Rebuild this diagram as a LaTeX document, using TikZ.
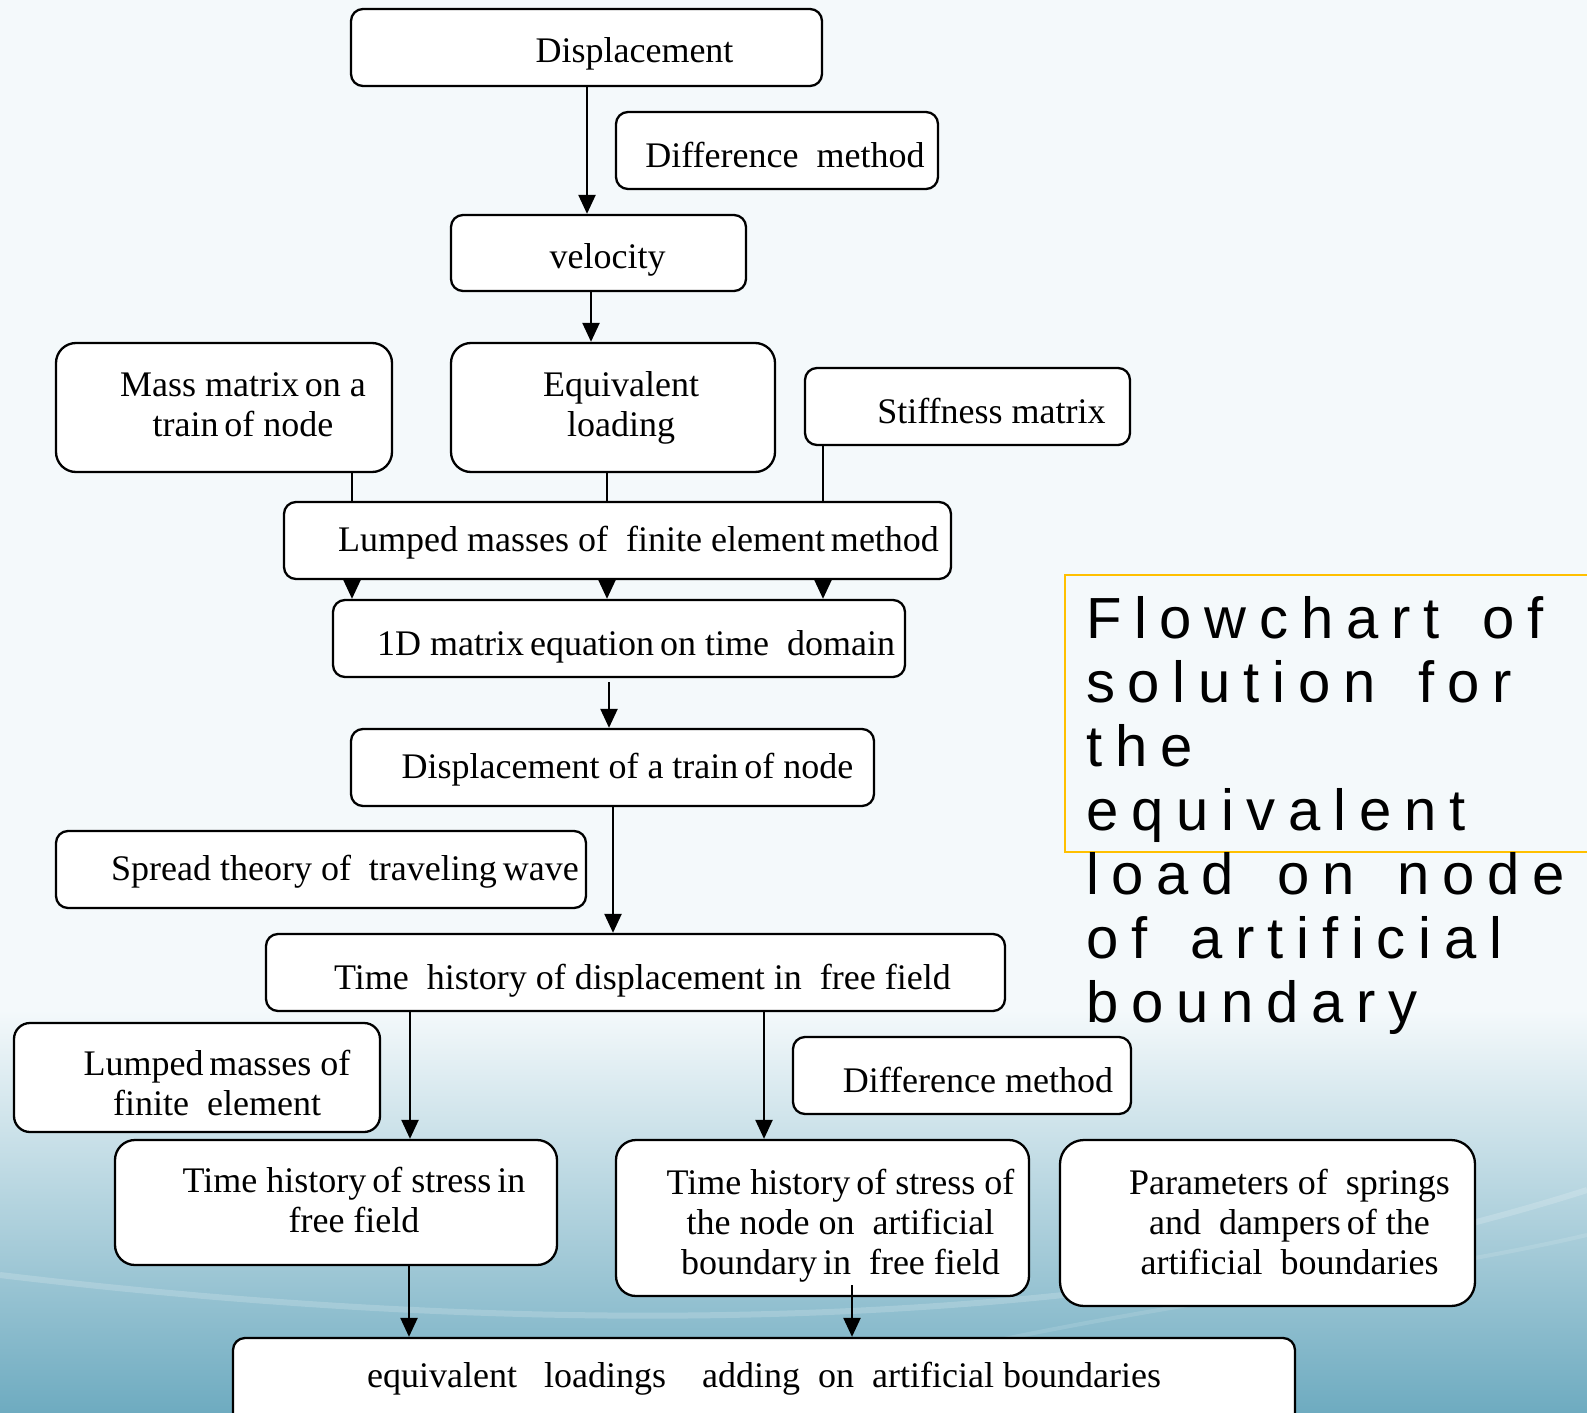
\documentclass[tikz,border=0pt]{standalone}
\usepackage{fontspec}
\setmainfont{Liberation Serif}
\newfontfamily\ttlfont[LetterSpace=22,WordSpace=1.5]{Liberation Sans}
\usetikzlibrary{arrows.meta}

\definecolor{bgtop}{HTML}{F4F9FB}
\definecolor{bgmid}{HTML}{B7D7E1}
\definecolor{bgdeep}{HTML}{6EABC0}
\definecolor{ttlgold}{HTML}{FFC000}

% text of a box, pushed right by #2 and down by #1
\newcommand\boxtxt[3][7]{\hspace*{#2pt}\raisebox{-#1pt}[\height][\depth]{\begin{tabular}{@{}c@{}}#3\end{tabular}}}

\begin{document}
\begin{tikzpicture}[x=1pt,y=-1pt,
  box/.style={draw, line width=2.3pt, fill=white, rounded corners=12pt,
    inner sep=2pt, font=\fontsize{36}{40}\selectfont},
  arr/.style={line width=2.3pt, -{Triangle[length=19pt,width=17pt]}}]
  \useasboundingbox (0,0) rectangle (1587,1413);

  % background
  \fill[bgtop] (0,0) rectangle (1587,1413);
  \shade[top color=bgtop, middle color=bgmid, bottom color=bgdeep] (0,1010) rectangle (1587,1413);
  \draw[white, opacity=.18, line width=6pt] (0,1275) .. controls (500,1335) and (1100,1345) .. (1587,1190);
  \draw[white, opacity=.12, line width=4pt] (700,1413) .. controls (1100,1300) and (1350,1290) .. (1587,1235);

  % boxes
  \node[box, minimum width=471pt, minimum height=77pt] (disp) at (586.5,47.5) {\boxtxt{96}{Displacement}};
  \node[box, minimum width=322pt, minimum height=77pt] (diffa) at (777,150.5) {\boxtxt[9]{16}{Difference\ \ method}};
  \node[box, minimum width=295pt, minimum height=76pt] (vel) at (598.5,253) {\boxtxt{18}{velocity}};
  \node[box, rounded corners=20pt, minimum width=336pt, minimum height=129pt] (mass) at (224,407.5)
    {\boxtxt[1]{38}{Mass matrix\,on a\\train\,of node}};
  \node[box, rounded corners=20pt, minimum width=324pt, minimum height=129pt] (equiv) at (613,407.5)
    {\boxtxt[1]{16}{Equivalent\\loading}};
  \node[box, minimum width=325pt, minimum height=77pt] (stiff) at (967.5,406.5) {\boxtxt[9]{48}{Stiffness matrix}};
  \node[box, minimum width=667pt, minimum height=77pt] (lump) at (617.5,540.5)
    {\boxtxt[3]{42}{Lumped masses of\ \ finite element\,method}};
  \node[box, minimum width=572pt, minimum height=77pt] (oned) at (619,638.5)
    {\boxtxt[9]{34}{1D matrix\,equation\,on time\ \ domain}};
  \node[box, minimum width=523pt, minimum height=77pt] (dtrain) at (612.5,767.5)
    {\boxtxt[3]{30}{Displacement of a train\,of node}};
  \node[box, minimum width=530pt, minimum height=77pt] (spread) at (321,869.5)
    {\boxtxt[3]{48}{Spread theory of\ \ traveling\,wave}};
  \node[box, minimum width=739pt, minimum height=77pt] (thdisp) at (635.5,972.5)
    {\boxtxt[9]{14}{Time\ \ history of displacement in\ \ free field}};
  \node[box, rounded corners=16pt, minimum width=366pt, minimum height=109pt] (lumpfe) at (197,1077.5)
    {\boxtxt[10]{40}{Lumped\,masses of\\finite\ \ element}};
  \node[box, minimum width=338pt, minimum height=77pt] (diffb) at (962,1075.5) {\boxtxt[9]{32}{Difference method}};
  \node[box, rounded corners=20pt, minimum width=442pt, minimum height=125pt] (thstress) at (336,1202.5)
    {\boxtxt[2]{36}{Time history\,of stress\,in\\free field}};
  \node[box, rounded corners=20pt, minimum width=413pt, minimum height=156pt] (thnode) at (822.5,1218)
    {\boxtxt[8]{36}{Time history\,of stress of\\the node on\ \ artificial\\boundary\,in\ \ free field}};
  \node[box, rounded corners=24pt, minimum width=415pt, minimum height=166pt] (param) at (1267.5,1223)
    {\boxtxt[3]{44}{Parameters of\ \ springs\\and\ \ dampers\,of the\\artificial\ \ boundaries}};
  \node[box, minimum width=1062pt, minimum height=87pt] (eqload) at (764,1381.5)
    {\boxtxt[-2]{0}{equivalent\ \ \ loadings\ \ \ \ adding\ \ on\ \ artificial boundaries}};

  % title
  \draw[ttlgold, line width=2.5pt] (1600,575) -| (1065,852) -- (1600,852);
  \node[anchor=north west, inner sep=0pt, align=left, font=\ttlfont\fontsize{58}{64}\selectfont]
    (ttl) at (1086,596) {Flowchart of\\solution for\\the\\equivalent\\load on node\\of artificial\\boundary};

  % connectors
  \draw[arr] (587,0 |- disp.south) -- (587,0 |- vel.north);
  \draw[arr] (591,0 |- vel.south) -- (591,0 |- equiv.north);
  \foreach \x/\s in {352/mass, 607/equiv, 823/stiff} {
    \draw[line width=2.3pt] (\x,0 |- \s.south) -- (\x,0 |- lump.north);
    \draw[arr] (\x,0 |- lump.south) -- (\x,0 |- oned.north);
  }
  \draw[arr] ([yshift=-4pt]609,0 |- oned.south) -- (609,0 |- dtrain.north);
  \draw[arr] (613,0 |- dtrain.south) -- (613,0 |- thdisp.north);
  \draw[arr] (410,0 |- thdisp.south) -- (410,0 |- thstress.north);
  \draw[arr] (764,0 |- thdisp.south) -- (764,0 |- thnode.north);
  \draw[arr] (409,0 |- thstress.south) -- (409,0 |- eqload.north);
  \draw[arr] ([yshift=12pt]852,0 |- thnode.south) -- (852,0 |- eqload.north);
\end{tikzpicture}
\end{document}
